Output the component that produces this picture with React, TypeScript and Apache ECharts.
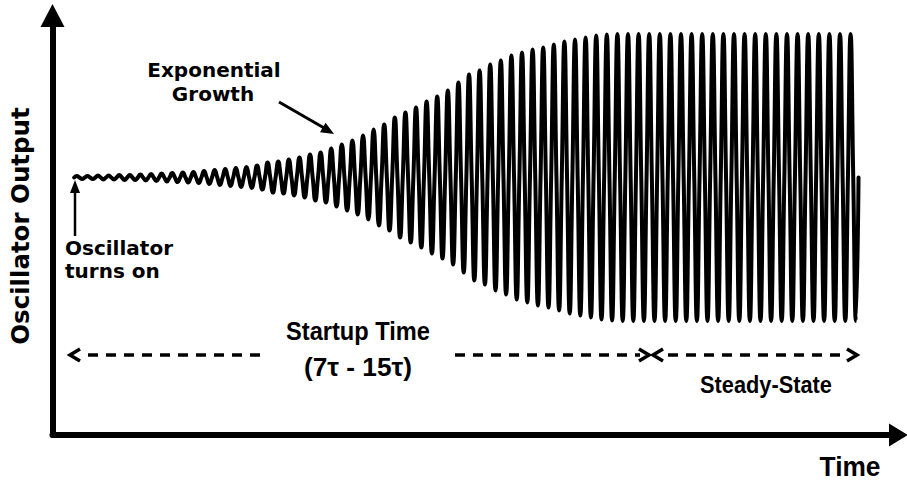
import React, { useEffect, useRef } from "react";
import * as echarts from "echarts";

// Peak amplitude of each oscillation cycle (output units)
const cycleAmplitudes: number[] = [
  1.5, 1.5, 2, 2, 2.5, 2.5, 3, 3.5, 4, 4.5,
  5, 5.5, 6.5, 7.5, 8.5, 9.5, 10.5, 12, 15, 16,
  18, 20, 23, 25, 29, 33, 37, 42, 48, 53,
  60, 65, 70, 76, 81, 87, 95, 103, 107, 113,
  117, 122, 125, 128, 130, 133, 136, 138, 140, 142,
  143, 143.5, 143.5, 143.5, 143.5, 143.5, 143.5, 143.5, 143.5, 143.5,
  143.5, 143.5, 143.5, 143.5, 143.5, 143.5, 143.5, 143.5, 143.5, 143.5,
  143.5, 143.5, 143.5, 143.5,
];

// Time axis range (in cycles) and output axis range
const timeRange = [-2.047, 77.77];
const outputRange = [-257.5, 162];

const yTitle = "Oscillator Output";
const xTitle = "Time";
const turnOnLabel = ["Oscillator", "turns on"];
const growthLabel = ["Exponential", "Growth"];
const startupLabel = ["Startup Time", "(7\u03c4 - 15\u03c4)"];
const steadyLabel = "Steady-State";

const WIDE = "DejaVu Sans";
const NARROW = "Liberation Sans";

function measure(text: string, size: number, family: string): number {
  const ctx = document.createElement("canvas").getContext("2d");
  if (!ctx) return text.length * size * 0.55;
  ctx.font = `bold ${size}px "${family}", sans-serif`;
  return ctx.measureText(text).width;
}

function label(
  text: string,
  x: number,
  y: number,
  size: number,
  align: "left" | "center" = "center",
  rotation = 0,
  family = WIDE,
  width?: number
) {
  const scaleX = width ? width / measure(text, size, family) : 1;
  return {
    type: "text",
    x,
    y,
    rotation,
    scaleX,
    style: {
      text,
      fill: "#000",
      fontSize: size,
      fontWeight: "bold",
      fontFamily: family,
      align,
      textAlign: align,
      verticalAlign: "middle",
      textVerticalAlign: "middle",
    },
  };
}

function chevron(tip: number, y: number, dir: 1 | -1) {
  return {
    type: "polyline",
    shape: {
      points: [
        [tip - dir * 10, y - 6],
        [tip, y],
        [tip - dir * 10, y + 6],
      ],
    },
    style: { stroke: "#000", lineWidth: 3.5, fill: null, lineJoin: "miter" },
  };
}

function dashed(x1: number, x2: number, y: number) {
  return {
    type: "line",
    shape: { x1, y1: y, x2, y2: y },
    style: { stroke: "#000", lineWidth: 3.5, lineDash: [10, 8] },
  };
}

export default function App() {
  const ref = useRef<HTMLDivElement>(null);

  useEffect(() => {
    if (!ref.current) return;
    const chart = echarts.init(ref.current, undefined, { renderer: "svg" });

    const wave: number[][] = [];
    cycleAmplitudes.forEach((a, k) => {
      wave.push([k, 0], [k + 0.25, a], [k + 0.5, 0], [k + 0.75, -a]);
    });
    wave.push([cycleAmplitudes.length, 0]);

    const axisLine = (size: number[]) => ({
      show: true,
      onZero: false,
      symbol: ["none", "triangle"],
      symbolSize: size,
      lineStyle: { color: "#000", width: 6, cap: "round" },
    });

    const dashY = 355;

    chart.setOption({
      animation: false,
      backgroundColor: "#fff",
      grid: {
        left: 52.5,
        right: 8.5,
        top: 15.5,
        bottom: 46,
        containLabel: false,
        outerBoundsMode: "none",
      },
      xAxis: {
        type: "value",
        min: timeRange[0],
        max: timeRange[1],
        position: "bottom",
        axisLine: axisLine([23, 19]),
        axisTick: { show: false },
        axisLabel: { show: false },
        splitLine: { show: false },
      },
      yAxis: {
        type: "value",
        min: outputRange[0],
        max: outputRange[1],
        position: "left",
        axisLine: axisLine([24, 23]),
        axisTick: { show: false },
        axisLabel: { show: false },
        splitLine: { show: false },
      },
      series: [
        {
          type: "line",
          data: wave,
          smooth: 0.5,
          showSymbol: false,
          symbol: "none",
          lineStyle: { color: "#000", width: 4, cap: "round" },
          z: 3,
        },
      ],
      graphic: [
        label(yTitle, 20, 226, 24.5, "center", Math.PI / 2),
        label(xTitle, 850, 467, 27, "center", 0, NARROW, 61),
        label(turnOnLabel[0], 65, 248, 20, "left"),
        label(turnOnLabel[1], 65, 271, 20, "left"),
        label(growthLabel[0], 214, 70, 20),
        label(growthLabel[1], 213, 94, 20),
        label(startupLabel[0], 358, 331, 25, "center", 0, NARROW, 144),
        label(startupLabel[1], 358, 367, 25, "center", 0, NARROW, 108),
        label(steadyLabel, 766, 385, 24, "center", 0, NARROW, 132),
        // turn-on arrow
        {
          type: "line",
          shape: { x1: 75, y1: 236, x2: 75, y2: 190 },
          style: { stroke: "#000", lineWidth: 2.5 },
        },
        {
          type: "polygon",
          shape: { points: [[75, 180], [70, 193], [80, 193]] },
          style: { fill: "#000" },
        },
        // growth arrow
        {
          type: "line",
          shape: { x1: 279, y1: 102, x2: 325, y2: 128.5 },
          style: { stroke: "#000", lineWidth: 3 },
        },
        {
          type: "polygon",
          shape: { points: [[334, 134], [325.6, 122.7], [320, 132.3]] },
          style: { fill: "#000" },
        },
        // dashed time spans
        chevron(70, dashY, -1),
        dashed(88, 264, dashY),
        dashed(455, 640, dashY),
        chevron(649, dashY, 1),
        chevron(653, dashY, -1),
        dashed(668, 846, dashY),
        chevron(857, dashY, 1),
      ],
    });

    return () => chart.dispose();
  }, []);

  return (
    <div
      ref={ref}
      style={{ position: "absolute", left: 0, top: 0, width: 907, height: 481 }}
    />
  );
}
